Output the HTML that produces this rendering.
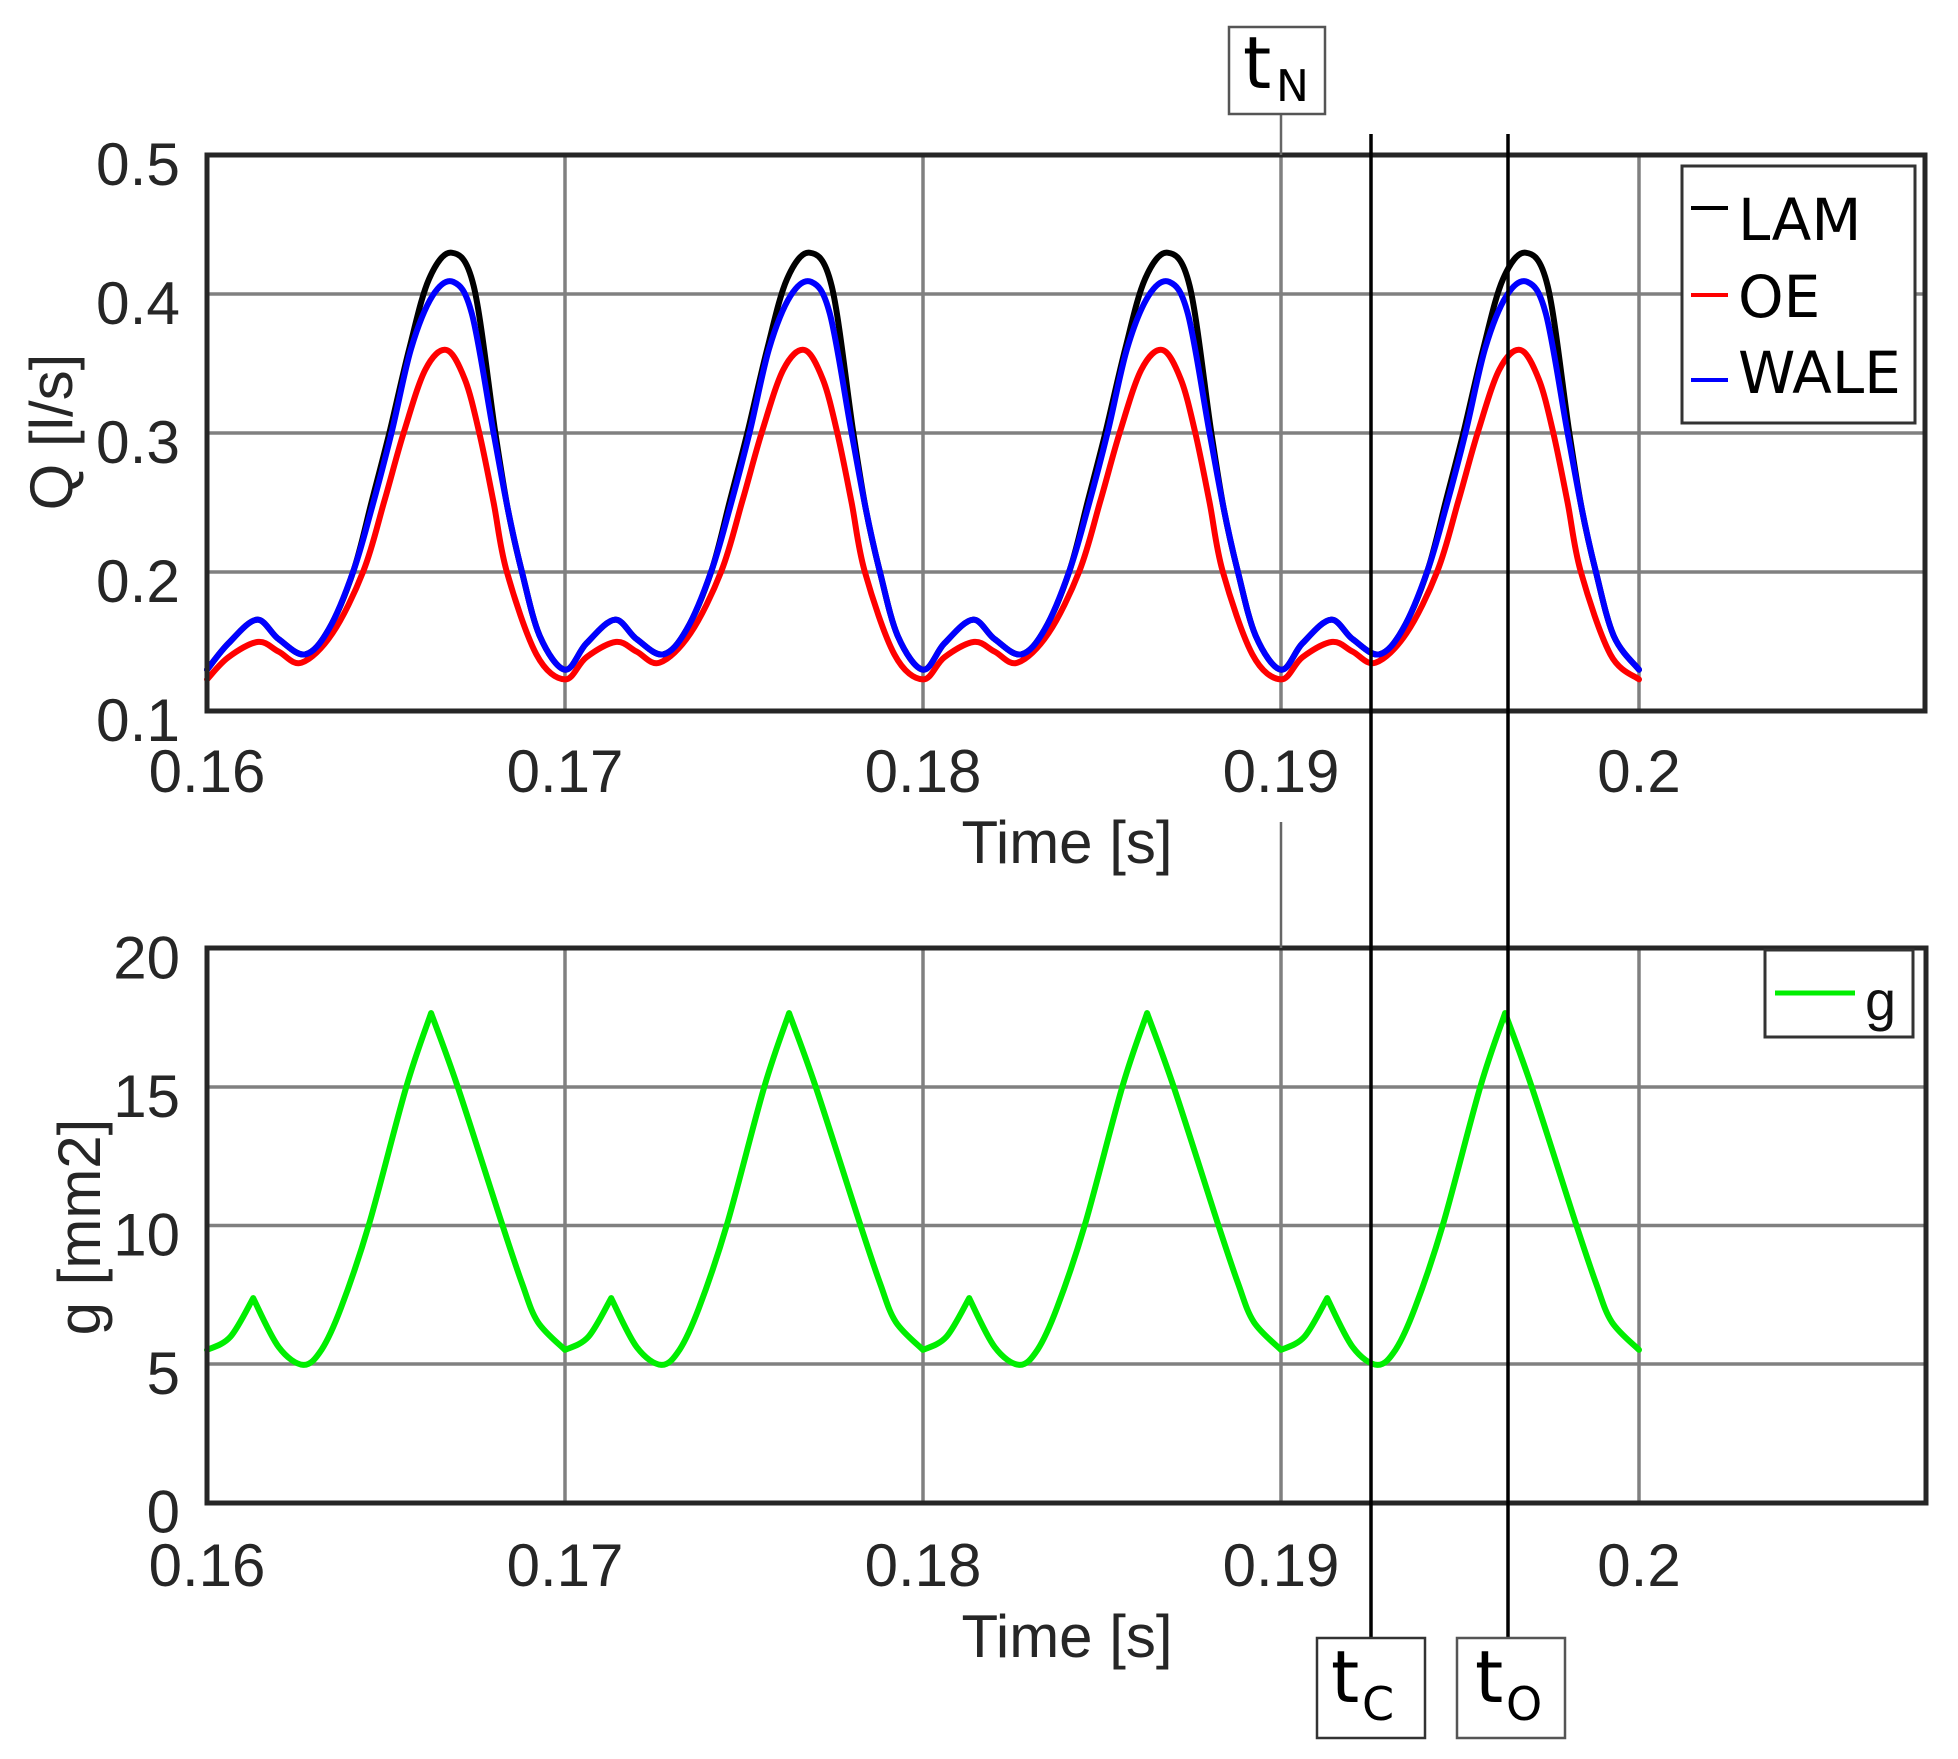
<!DOCTYPE html>
<html><head><meta charset="utf-8"><style>
html,body{margin:0;padding:0;background:#fff;}
svg{display:block;}
.tk{font-family:"Liberation Sans",sans-serif;font-size:60px;fill:#262626;}
.lg{font-family:"DejaVu Sans","Liberation Sans",sans-serif;fill:#000;}
</style></head><body>
<svg id="s" width="1958" height="1759" viewBox="0 0 1958 1759" xmlns="http://www.w3.org/2000/svg">
<rect width="1958" height="1759" fill="#fff"/>
<g id="grid" stroke="#808080" stroke-width="3.5"></g>
<g id="series" fill="none" stroke-linejoin="round" stroke-linecap="round"></g>
<g id="axes" fill="none" stroke="#262626" stroke-width="5">
<rect x="207" y="155" width="1718" height="556"/>
<rect x="207" y="948" width="1719" height="555"/>
</g>
<g id="labels"></g>
<rect x="1682" y="166" width="233" height="257" fill="#fff" stroke="#333" stroke-width="3"/>
<line x1="1691" y1="208" x2="1728" y2="208" stroke="#000" stroke-width="4"/>
<line x1="1691" y1="295" x2="1728" y2="295" stroke="#ff0000" stroke-width="4"/>
<line x1="1691" y1="380" x2="1728" y2="380" stroke="#0000ff" stroke-width="4"/>
<text class="lg" x="1738" y="240" font-size="58">LAM</text>
<text class="lg" x="1738" y="317" font-size="58">OE</text>
<text class="lg" x="1738" y="393" font-size="58">WALE</text>
<rect x="1765" y="950" width="148" height="87" fill="#fff" stroke="#333" stroke-width="3"/>
<line x1="1775" y1="993" x2="1855" y2="993" stroke="#00ee00" stroke-width="5"/>
<text x="1865" y="1020" font-family="Liberation Sans, sans-serif" font-size="56" fill="#111">g</text>
<line x1="1281" y1="114" x2="1281" y2="155" stroke="#666" stroke-width="2.5"/>
<line x1="1281" y1="822" x2="1281" y2="948" stroke="#666" stroke-width="2.5"/>
<line x1="1371" y1="134" x2="1371" y2="1638" stroke="#000" stroke-width="3.5"/>
<line x1="1508" y1="134" x2="1508" y2="1638" stroke="#000" stroke-width="3.5"/>
<rect x="1229" y="27" width="96" height="87" fill="#fff" stroke="#555" stroke-width="2.5"/>
<text class="lg" x="1243" y="88" font-size="72">t</text>
<text class="lg" x="1276" y="101" font-size="44">N</text>
<rect x="1317" y="1638" width="108" height="100" fill="#fff" stroke="#333" stroke-width="2.5"/>
<text class="lg" x="1331" y="1702" font-size="72">t</text>
<text class="lg" x="1362" y="1720" font-size="46">C</text>
<rect x="1457" y="1638" width="108" height="100" fill="#fff" stroke="#555" stroke-width="2.5"/>
<text class="lg" x="1475" y="1702" font-size="72">t</text>
<text class="lg" x="1506" y="1720" font-size="46">O</text>
</svg>
<script>
var NS="http://www.w3.org/2000/svg";
function el(p,t,a,txt){var e=document.createElementNS(NS,t);for(var k in a)e.setAttribute(k,a[k]);if(txt!==undefined)e.textContent=txt;p.appendChild(e);return e;}
var X0=207,DX=358;
function xt(ms){return X0+ms*DX/10;}
var grid=document.getElementById('grid'),lab=document.getElementById('labels'),ser=document.getElementById('series');
var xl=['0.16','0.17','0.18','0.19','0.2'];
for(var i=0;i<5;i++){var x=X0+i*DX;
 el(grid,'line',{x1:x,y1:155,x2:x,y2:711});el(grid,'line',{x1:x,y1:948,x2:x,y2:1503});
 el(lab,'text',{class:'tk',x:x,y:792,'text-anchor':'middle'},xl[i]);
 el(lab,'text',{class:'tk',x:x,y:1586,'text-anchor':'middle'},xl[i]);}
var ql=['0.5','0.4','0.3','0.2','0.1'];
for(var j=0;j<5;j++){var y=155+j*139;
 if(j>0&&j<4)el(grid,'line',{x1:207,y1:y,x2:1925,y2:y});
 el(lab,'text',{class:'tk',x:180,y:y+30,'text-anchor':'end',textLength:84,lengthAdjust:'spacingAndGlyphs'},ql[j]);}
var gl=['20','15','10','5','0'];
for(var j=0;j<5;j++){var y=948.5+j*138.5;
 if(j>0&&j<4)el(grid,'line',{x1:207,y1:y,x2:1926,y2:y});
 el(lab,'text',{class:'tk',x:180,y:y+30,'text-anchor':'end'},gl[j]);}
el(lab,'text',{class:'tk',x:1067,y:863,'text-anchor':'middle'},'Time [s]');
el(lab,'text',{class:'tk',x:1067,y:1657,'text-anchor':'middle'},'Time [s]');
el(lab,'text',{class:'tk',transform:'translate(72,432) rotate(-90)','text-anchor':'middle','font-size':'56'},'Q [l/s]');
el(lab,'text',{class:'tk',transform:'translate(100,1227) rotate(-90)','text-anchor':'middle','font-size':'56'},'g [mm2]');
function cr(pts){var d='';for(var i=0;i<pts.length-1;i++){var p0=pts[i>0?i-1:i],p1=pts[i],p2=pts[i+1],p3=pts[i+2<pts.length?i+2:i+1];
 if(i==0)d+='M'+p1[0].toFixed(1)+','+p1[1].toFixed(1);
 var c1=[p1[0]+(p2[0]-p0[0])/6,p1[1]+(p2[1]-p0[1])/6],c2=[p2[0]-(p3[0]-p1[0])/6,p2[1]-(p3[1]-p1[1])/6];
 d+='C'+c1[0].toFixed(1)+','+c1[1].toFixed(1)+' '+c2[0].toFixed(1)+','+c2[1].toFixed(1)+' '+p2[0].toFixed(1)+','+p2[1].toFixed(1);}return d;}
function yq(v){return 293+(0.4-v)*1390;}
function yg(v){return 1502-v*27.7;}
function qpath(arr){var pts=[];for(var c=0;c<4;c++){arr.forEach(function(p,k){if(c>0&&k==0)return;pts.push([xt(c*10+p[0]),yq(p[1])]);});}return cr(pts);}
var blue=[[0,0.129],[0.6,0.148],[1.39,0.165],[2.0,0.151],[2.74,0.140],[3.4,0.158],[4.09,0.2],[4.6,0.245],[5.16,0.3],[5.7,0.36],[6.3,0.398],[6.88,0.408],[7.4,0.385],[8.0,0.3],[8.4,0.245],[8.79,0.2],[9.3,0.153],[10,0.129]];
var black=[[0,0.129],[0.6,0.148],[1.39,0.165],[2.0,0.151],[2.74,0.140],[3.4,0.158],[4.09,0.2],[4.6,0.25],[5.1,0.3],[5.65,0.36],[6.2,0.41],[6.83,0.429],[7.45,0.405],[8.05,0.3],[8.4,0.245],[8.79,0.2],[9.3,0.153],[10,0.129]];
var red=[[0,0.122],[0.6,0.138],[1.43,0.149],[2.0,0.142],[2.64,0.134],[3.5,0.155],[4.37,0.2],[4.95,0.25],[5.5,0.3],[6.1,0.345],[6.69,0.359],[7.2,0.338],[7.6,0.3],[8.0,0.25],[8.37,0.2],[9.2,0.14],[10,0.122]];
el(ser,'path',{d:qpath(black),stroke:'#000','stroke-width':6});
el(ser,'path',{d:qpath(red),stroke:'#ff0000','stroke-width':6});
el(ser,'path',{d:qpath(blue),stroke:'#0000ff','stroke-width':6});
var segA=[[0,5.49],[0.65,5.96],[1.29,7.36]];
var segB=[[1.29,7.36],[2.0,5.6],[2.69,4.95],[3.2,5.5],[3.74,7.0],[4.52,10],[5.57,15],[6.26,17.65]];
var segC=[[6.26,17.65],[7.0,15],[8.25,10],[8.8,7.9],[9.24,6.5],[10,5.49]];
var gd='';
for(var c=0;c<4;c++){[segA,segB,segC].forEach(function(s){gd+=cr(s.map(function(p){return [xt(c*10+p[0]),yg(p[1])];}));});}
el(ser,'path',{d:gd,stroke:'#00ee00','stroke-width':6});
</script>
</body></html>
